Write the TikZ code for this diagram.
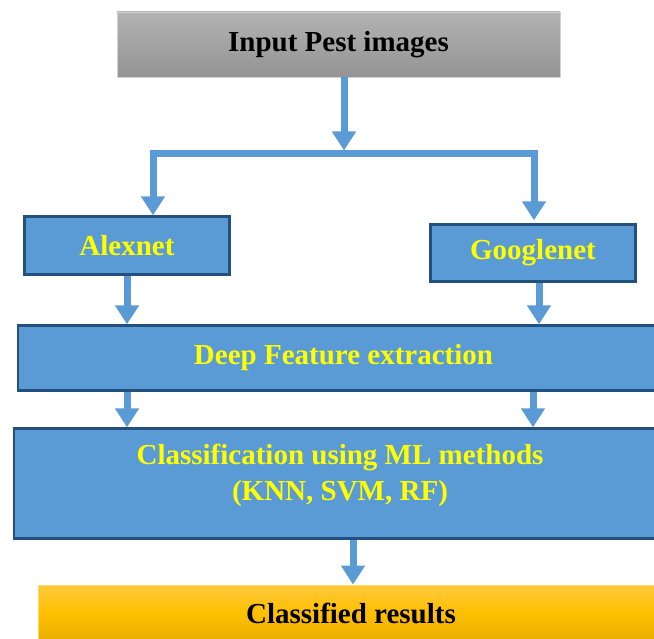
\documentclass[tikz,border=0pt]{standalone}
\usepackage{fontspec}
\setmainfont{Liberation Serif}
\usetikzlibrary{arrows.meta,calc}
\definecolor{boxblue}{HTML}{5B9BD5}
\definecolor{edgeblue}{HTML}{24507D}
\definecolor{arrblue}{HTML}{5B9BD5}
\definecolor{txtyellow}{HTML}{FFFF00}
\begin{document}
\begin{tikzpicture}[x=1pt,y=1pt,
  boxfont/.style={font=\bfseries\fontsize{29}{36}\selectfont},
  bluebox/.style={draw=edgeblue, line width=2.4pt, fill=boxblue, text=txtyellow, boxfont, inner sep=0pt, align=center},
  graybox/.style={draw=gray!35, line width=0.8pt, top color=black!30, bottom color=black!42, text=black, boxfont, inner sep=0pt},
  orangebox/.style={draw=yellow!60!orange!60, line width=0.8pt, top color={rgb,255:red,255;green,200;blue,60}, bottom color={rgb,255:red,232;green,172;blue,0}, middle color={rgb,255:red,255;green,192;blue,0}, text=black, boxfont, inner sep=0pt},
  yellowtext/.style={text=txtyellow, boxfont, align=center, inner sep=0pt},
  arr/.style={draw=arrblue, line width=7pt, -{Triangle[width=23pt,length=19pt]}},
  bar/.style={draw=arrblue, line width=7pt, line cap=rect}
]
\useasboundingbox (0,0) rectangle (654,-639);
% nodes
\node[graybox, minimum width=443pt, minimum height=65pt] (input) at (338.5,-44.5) {Input Pest images};
\node[bluebox, minimum width=205pt, minimum height=58pt] (alex) at (127,-245.5) {Alexnet};
\node[bluebox, minimum width=205pt, minimum height=57pt] (goog) at (533,-253) {Googlenet};
\node[bluebox, minimum width=651pt, minimum height=65pt] (deep) at (343.5,-358) {Deep Feature extraction};
\node[bluebox, minimum width=652pt, minimum height=110pt] (class) at (340,-483.5) {};
\node[yellowtext, anchor=north] (classtext) at ([yshift=-17pt]class.north) {Classification using ML methods\\(KNN, SVM, RF)};
\node[orangebox, minimum width=626pt, minimum height=56pt] (result) at (351,-613) {Classified results};
% split connector
\coordinate (split) at (344,-153.5);
\coordinate (bl) at (153,-153.5);
\coordinate (br) at (534,-153.5);
\draw[arr] (input.south -| split) -- ([yshift=3pt]split);
\draw[bar] (bl) -- (br);
\draw[arr] (bl) -- (alex.north -| bl);
\draw[arr] (br) -- ([yshift=3pt]goog.north -| br);
% to deep features
\draw[arr] (alex.south) -- (alex.south |- deep.north);
\draw[arr] ([xshift=6pt]goog.south) -- ([xshift=6pt]goog.south |- deep.north);
% to classification
\draw[arr] (deep.south -| alex.south) -- (class.north -| alex.south);
\draw[arr] (deep.south -| goog.south) -- (class.north -| goog.south);
% to result
\draw[arr] ([xshift=2pt]class.south -| result.north) -- ([xshift=2pt]result.north);
\end{tikzpicture}
\end{document}
